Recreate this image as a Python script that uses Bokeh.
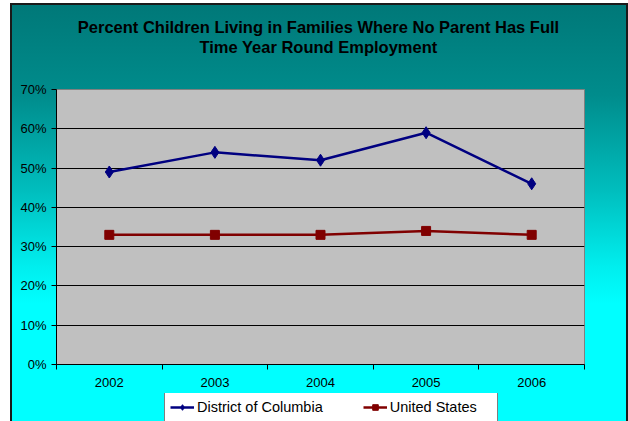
from bokeh.plotting import figure
from bokeh.models import (FixedTicker, NumeralTickFormatter, Legend, LegendItem,
                          Label, Range1d, ColumnDataSource)
from bokeh.layouts import column
from bokeh.embed import file_html
from bokeh.resources import INLINE

# ---- data ----
years = ["2002", "2003", "2004", "2005", "2006"]
dc_values = [0.49, 0.54, 0.52, 0.59, 0.46]
us_values = [0.33, 0.33, 0.33, 0.34, 0.33]
series_names = ["District of Columbia", "United States"]
title_lines = ["Percent Children Living in Families Where No Parent Has Full",
               "Time Year Round Employment"]
y_ticks = [i / 10 for i in range(8)]

xs = list(range(1, len(years) + 1))
src = ColumnDataSource(dict(x=xs, dc=dc_values, us=us_values))

FONT = "Liberation Sans"
DC_COLOR = "#000080"
US_COLOR = "#800000"
W = 618
FRAME_W = 528


def bare(fig):
    fig.border_fill_color = None
    fig.background_fill_color = None
    fig.outline_line_color = None
    fig.grid.visible = False
    return fig


# ---------- title strip (frame aligned with the chart frame) ----------
tf = bare(figure(width=W, height=67, output_backend="svg", toolbar_location=None,
                 x_range=Range1d(0, FRAME_W), y_range=Range1d(0, 67),
                 x_axis_location=None, y_axis_location=None, min_border=0))
for line, ty in zip(title_lines, [44, 24]):
    tf.add_layout(Label(x=262, y=ty, text=line, text_font=FONT, text_font_size="16.5px",
                        text_font_style="bold", text_align="center",
                        text_baseline="middle", text_color="#000000"))

# ---------- main chart ----------
p = figure(width=W, height=323, output_backend="svg", toolbar_location=None,
           x_range=Range1d(0.5, len(years) + 0.5), y_range=Range1d(0, 0.7),
           min_border_left=46, min_border_right=44, min_border_top=19,
           min_border_bottom=29)
p.border_fill_color = None
p.background_fill_color = "#C0C0C0"
p.outline_line_color = "#808080"
p.outline_line_width = 1

p.xgrid.grid_line_color = None
p.ygrid.ticker = FixedTicker(ticks=y_ticks)
p.ygrid.grid_line_color = "#000000"
p.ygrid.grid_line_width = 1

p.yaxis.ticker = FixedTicker(ticks=y_ticks)
p.yaxis.formatter = NumeralTickFormatter(format="0%")
p.yaxis.major_tick_out = 5
p.yaxis.major_tick_in = 0
p.yaxis.minor_tick_line_color = None
p.yaxis.axis_line_color = "#000000"
p.yaxis.major_tick_line_color = "#000000"
p.yaxis.major_label_text_font = FONT
p.yaxis.major_label_text_font_size = "13px"
p.yaxis.major_label_text_color = "#000000"
p.yaxis.major_label_standoff = 5

p.xaxis.ticker = FixedTicker(ticks=xs, minor_ticks=[x - 0.5 for x in xs] + [xs[-1] + 0.5])
p.xaxis.major_label_overrides = {x: y for x, y in zip(xs, years)}
p.xaxis.major_tick_out = 0
p.xaxis.major_tick_in = 0
p.xaxis.minor_tick_out = 5
p.xaxis.minor_tick_in = 0
p.xaxis.minor_tick_line_color = "#000000"
p.xaxis.axis_line_color = "#000000"
p.xaxis.major_label_text_font = FONT
p.xaxis.major_label_text_font_size = "13px"
p.xaxis.major_label_text_color = "#000000"
p.xaxis.major_label_standoff = 8


def draw_series(fig):
    l1 = fig.line("x", "dc", source=src, line_color=DC_COLOR, line_width=2.5)
    m1 = fig.scatter("x", "dc", source=src, marker="diamond", size=12,
                     fill_color=DC_COLOR, line_color=DC_COLOR)
    l2 = fig.line("x", "us", source=src, line_color=US_COLOR, line_width=2.5)
    m2 = fig.scatter("x", "us", source=src, marker="square", size=9,
                     fill_color=US_COLOR, line_color=US_COLOR)
    return (l1, m1), (l2, m2)


draw_series(p)

# ---------- legend strip ----------
lf = bare(figure(width=W, height=28, output_backend="svg", toolbar_location=None,
                 x_range=Range1d(-20, -10), y_range=Range1d(-20, -10),
                 x_axis_location=None, y_axis_location=None, min_border=0))
dc_r, us_r = draw_series(lf)
legend = Legend(items=[LegendItem(label=series_names[0], renderers=list(dc_r)),
                       LegendItem(label=series_names[1], renderers=list(us_r))],
                orientation="horizontal", location=(108, -2))
legend.label_text_font = FONT
legend.label_text_font_size = "14.5px"
legend.label_text_color = "#000000"
legend.glyph_width = 24
legend.glyph_height = 14
legend.label_height = 20
legend.label_width = 102
legend.label_standoff = 3
legend.spacing = 40
legend.padding = 5
legend.margin = 0
legend.border_line_color = "#000000"
legend.border_line_width = 1
legend.background_fill_color = "#FFFFFF"
legend.background_fill_alpha = 1
lf.add_layout(legend, "center")

layout = column(tf, p, lf, spacing=0)
layout.styles = {
    "margin-left": "10px",
    "margin-top": "3px",
    "background": "linear-gradient(to bottom, #007878 0%, #008C8C 22%, #00BEBE 45%, #00EEEE 63%, #00FFFF 72%, #00FFFF 100%)",
    "box-shadow": "inset 2px 2px 0 #1a1a1a, inset -2px 0 0 #1a1a1a",
}

open("out.html", "w").write(file_html(layout, INLINE))
